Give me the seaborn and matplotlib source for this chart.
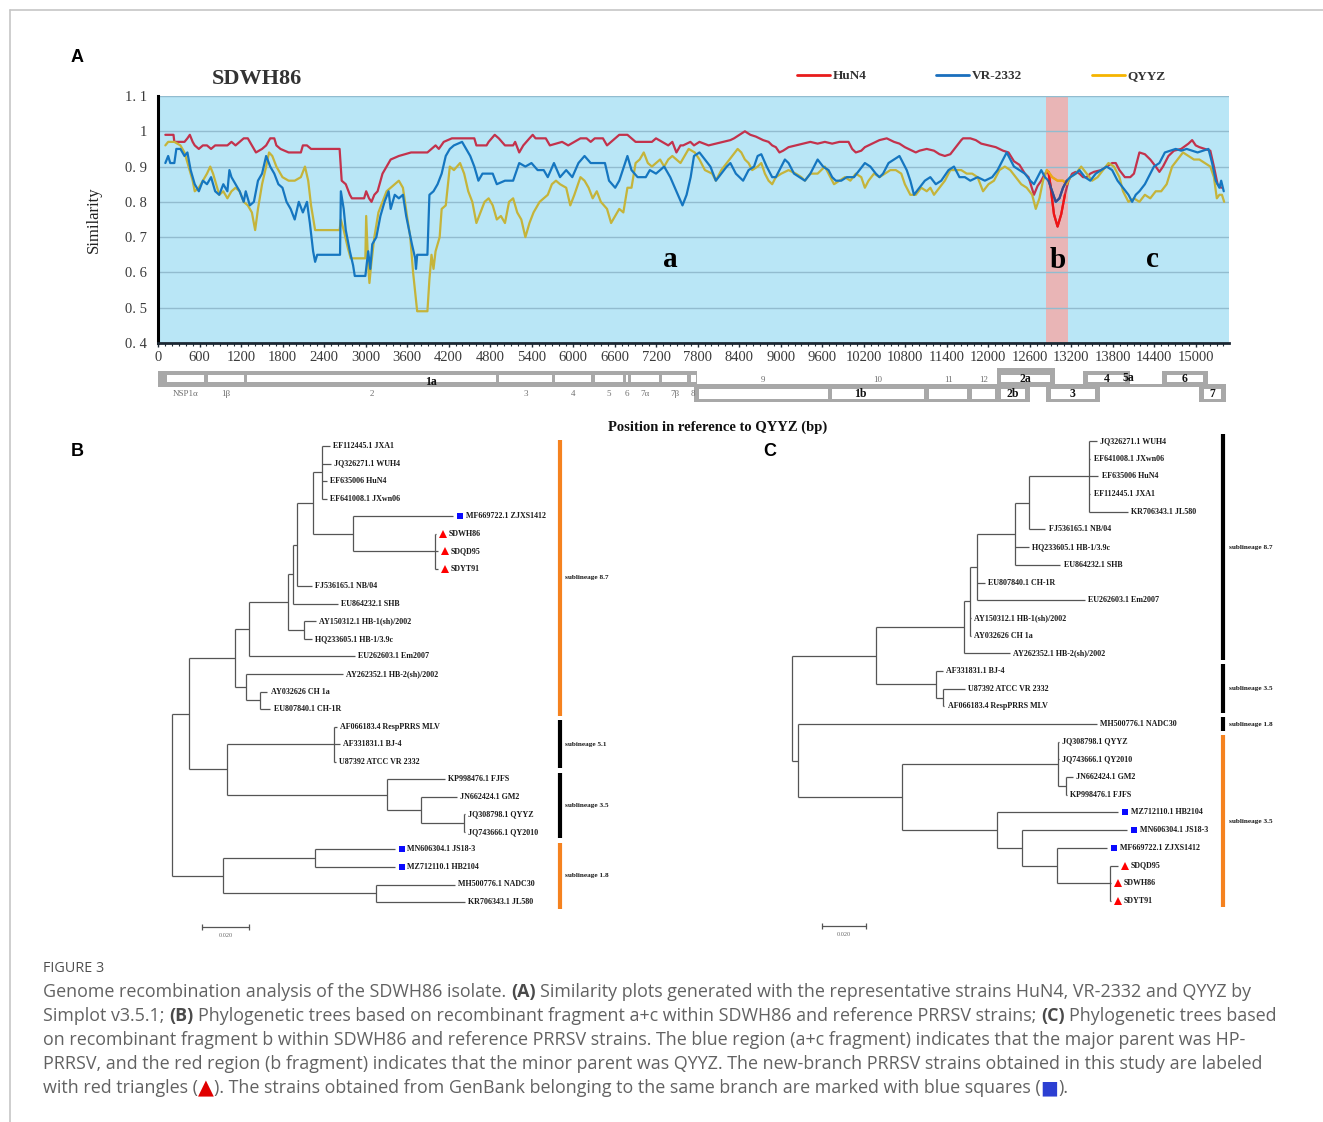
import matplotlib
matplotlib.use("Agg")
import matplotlib.pyplot as plt
from matplotlib import transforms
from matplotlib.lines import Line2D
from matplotlib.patches import Rectangle
from matplotlib.ticker import MultipleLocator
import numpy as np
import pandas as pd
import seaborn as sns

# ---------------- Panel A: similarity plot (position in bp, similarity) ----------------
hun4_pos = [106, 224, 236, 383, 425, 460, 501, 531, 590, 649, 708, 767, 826, 885, 944, 1003, 1062, 1121,
            1180, 1239, 1298, 1357, 1416, 1504, 1563, 1622, 1681, 1711, 1770, 1888, 2065, 2094, 2153, 2212,
            2625, 2655, 2714, 2773, 2802, 2979, 3009, 3050, 3086, 3127, 3174, 3245, 3304, 3363, 3481, 3658,
            3894, 3953, 4012, 4059, 4130, 4248, 4572, 4602, 4749, 4779, 4867, 4926, 5015, 5133, 5162, 5221,
            5280, 5369, 5416, 5457, 5605, 5664, 5841, 5929, 6018, 6106, 6195, 6254, 6313, 6431, 6490, 6549,
            6667, 6785, 6844, 6903, 7139, 7198, 7286, 7375, 7434, 7493, 7552, 7590, 7695, 7747, 7826, 7958,
            8063, 8168, 8273, 8326, 8404, 8483, 8562, 8641, 8746, 8825, 8877, 8930, 8982, 9035, 9114, 9219,
            9324, 9429, 9534, 9639, 9744, 9849, 9981, 10033, 10086, 10165, 10217, 10322, 10428, 10533, 10638,
            10717, 10795, 10900, 10953, 11006, 11111, 11216, 11295, 11373, 11452, 11531, 11610, 11636, 11741,
            11820, 11899, 12004, 12109, 12162, 12214, 12293, 12372, 12451, 12530, 12582, 12661, 12713, 12766,
            12819, 12871, 12897, 12950, 13002, 13055, 13108, 13160, 13213, 13265, 13318, 13370, 13423, 13475,
            13528, 13633, 13712, 13791, 13843, 13896, 13975, 14053, 14106, 14185, 14264, 14342, 14421, 14474,
            14526, 14605, 14684, 14789, 14894, 14947, 14999, 15052, 15131, 15210, 15262, 15315, 15367]
hun4_sim = [0.99, 0.99, 0.97, 0.97, 0.98, 0.99, 0.97, 0.96, 0.95, 0.96, 0.96, 0.95, 0.96, 0.96, 0.96, 0.96, 0.97, 0.96,
            0.97, 0.98, 0.98, 0.96, 0.94, 0.95, 0.96, 0.98, 0.98, 0.96, 0.95, 0.94, 0.94, 0.96, 0.96, 0.95,
            0.95, 0.86, 0.85, 0.82, 0.81, 0.81, 0.83, 0.81, 0.80, 0.82, 0.83, 0.88, 0.90, 0.92, 0.93, 0.94,
            0.94, 0.95, 0.96, 0.95, 0.97, 0.98, 0.98, 0.96, 0.96, 0.97, 0.99, 0.98, 0.96, 0.96, 0.97, 0.94,
            0.96, 0.98, 0.99, 0.98, 0.98, 0.96, 0.97, 0.96, 0.97, 0.98, 0.98, 0.97, 0.98, 0.98, 0.96, 0.97,
            0.99, 0.99, 0.98, 0.97, 0.97, 0.98, 0.97, 0.96, 0.97, 0.94, 0.96, 0.96, 0.97, 0.96, 0.97, 0.96,
            0.965, 0.97, 0.975, 0.98, 0.99, 1.00, 0.99, 0.985, 0.975, 0.97, 0.96, 0.955, 0.94, 0.945, 0.955, 0.96,
            0.965, 0.97, 0.965, 0.97, 0.965, 0.97, 0.97, 0.95, 0.94, 0.945, 0.955, 0.965, 0.975, 0.98, 0.97,
            0.965, 0.955, 0.945, 0.94, 0.945, 0.95, 0.945, 0.935, 0.93, 0.935, 0.955, 0.975, 0.98, 0.98,
            0.975, 0.965, 0.96, 0.955, 0.95, 0.945, 0.94, 0.915, 0.905, 0.88, 0.87, 0.82, 0.845, 0.86,
            0.88, 0.885, 0.85, 0.765, 0.73, 0.765, 0.82, 0.86, 0.88, 0.885, 0.88, 0.87, 0.87, 0.88,
            0.885, 0.89, 0.90, 0.91, 0.91, 0.89, 0.87, 0.87, 0.88, 0.94, 0.935, 0.92, 0.90, 0.885,
            0.90, 0.93, 0.945, 0.95, 0.965, 0.975, 0.96, 0.955, 0.95, 0.945, 0.90, 0.85, 0.84]

vr2332_pos = [106, 147, 177, 236, 265, 324, 383, 425, 472, 531, 590, 649, 708, 767, 826, 885, 944, 1003, 1032,
              1062, 1121, 1180, 1239, 1268, 1327, 1386, 1445, 1504, 1563, 1622, 1681, 1740, 1799, 1858, 1917,
              1976, 2035, 2094, 2153, 2195, 2242, 2271, 2301, 2631, 2643, 2684, 2714, 2773, 2820, 2844, 2997,
              3038, 3068, 3097, 3156, 3215, 3274, 3333, 3363, 3422, 3481, 3540, 3587, 3628, 3670, 3717, 3729,
              3746, 3894, 3923, 3982, 4041, 4100, 4159, 4218, 4277, 4395, 4454, 4513, 4572, 4631, 4690, 4749,
              4838, 4897, 5015, 5133, 5221, 5310, 5398, 5487, 5575, 5634, 5723, 5811, 5900, 5988, 6077, 6165,
              6254, 6372, 6460, 6519, 6608, 6667, 6785, 6844, 6932, 7050, 7109, 7198, 7316, 7404, 7493, 7581,
              7640, 7699, 7747, 7826, 7905, 7984, 8063, 8142, 8220, 8273, 8352, 8457, 8536, 8615, 8667, 8720,
              8798, 8877, 8930, 9009, 9061, 9114, 9193, 9271, 9350, 9429, 9534, 9613, 9692, 9744, 9797, 9876,
              9955, 10060, 10138, 10217, 10296, 10375, 10428, 10480, 10559, 10638, 10717, 10769, 10822, 10874,
              10927, 11006, 11084, 11163, 11242, 11321, 11426, 11505, 11584, 11662, 11741, 11846, 11951, 12057,
              12135, 12214, 12267, 12319, 12372, 12451, 12530, 12608, 12661, 12713, 12766, 12819, 12871, 12924,
              12976, 13029, 13081, 13134, 13186, 13265, 13318, 13397, 13475, 13554, 13633, 13712, 13791, 13869,
              13948, 14027, 14080, 14132, 14185, 14264, 14342, 14395, 14474, 14553, 14632, 14710, 14789, 14868,
              14947, 15026, 15105, 15183, 15236, 15288, 15341, 15367, 15404]
vr2332_sim = [0.91, 0.93, 0.91, 0.91, 0.95, 0.95, 0.93, 0.94, 0.89, 0.85, 0.83, 0.86, 0.85, 0.87, 0.83, 0.82, 0.85, 0.83, 0.89,
              0.87, 0.85, 0.83, 0.80, 0.83, 0.79, 0.80, 0.86, 0.88, 0.93, 0.90, 0.88, 0.85, 0.84, 0.80, 0.78,
              0.75, 0.80, 0.77, 0.80, 0.74, 0.66, 0.63, 0.65, 0.65, 0.83, 0.78, 0.72, 0.66, 0.62, 0.59, 0.59,
              0.66, 0.61, 0.68, 0.70, 0.76, 0.80, 0.83, 0.78, 0.82, 0.81, 0.82, 0.76, 0.72, 0.68, 0.64, 0.61,
              0.65, 0.65, 0.82, 0.83, 0.85, 0.88, 0.93, 0.95, 0.96, 0.97, 0.95, 0.93, 0.90, 0.86, 0.88, 0.88,
              0.88, 0.85, 0.86, 0.86, 0.91, 0.90, 0.91, 0.89, 0.89, 0.87, 0.91, 0.87, 0.89, 0.87, 0.91, 0.93,
              0.91, 0.91, 0.91, 0.86, 0.84, 0.86, 0.93, 0.89, 0.87, 0.87, 0.89, 0.88, 0.90, 0.87, 0.83, 0.79,
              0.82, 0.87, 0.93, 0.94, 0.92, 0.90, 0.86, 0.88, 0.90, 0.91, 0.88, 0.86, 0.89, 0.90, 0.93, 0.935,
              0.90, 0.87, 0.87, 0.90, 0.92, 0.91, 0.88, 0.87, 0.86, 0.88, 0.92, 0.90, 0.89, 0.87, 0.86, 0.86,
              0.87, 0.87, 0.89, 0.91, 0.90, 0.88, 0.87, 0.88, 0.91, 0.92, 0.93, 0.91, 0.89, 0.86,
              0.82, 0.84, 0.86, 0.87, 0.85, 0.86, 0.89, 0.90, 0.87, 0.87, 0.86, 0.87, 0.86, 0.87,
              0.89, 0.92, 0.94, 0.92, 0.90, 0.89, 0.88, 0.86, 0.85, 0.87, 0.89, 0.87, 0.86, 0.83,
              0.80, 0.81, 0.84, 0.86, 0.87, 0.88, 0.89, 0.87, 0.86, 0.88, 0.89, 0.90, 0.89, 0.86,
              0.84, 0.82, 0.80, 0.82, 0.83, 0.85, 0.88, 0.90, 0.91, 0.94, 0.945, 0.95, 0.945, 0.95,
              0.945, 0.94, 0.945, 0.95, 0.91, 0.86, 0.84, 0.86, 0.83]

qyyz_pos = [106, 147, 236, 324, 383, 442, 501, 531, 590, 649, 708, 755, 796, 855, 885, 944, 1003, 1062, 1121,
            1180, 1239, 1298, 1357, 1404, 1445, 1504, 1563, 1605, 1652, 1711, 1799, 1888, 1976, 2065, 2124,
            2171, 2212, 2271, 2625, 2643, 2684, 2743, 2785, 2997, 3009, 3038, 3056, 3080, 3127, 3186, 3245,
            3304, 3363, 3422, 3481, 3540, 3599, 3646, 3687, 3746, 3894, 3923, 3953, 3982, 4012, 4071, 4100,
            4159, 4218, 4277, 4366, 4425, 4484, 4543, 4602, 4661, 4720, 4779, 4838, 4897, 4956, 5015, 5074,
            5133, 5192, 5251, 5310, 5369, 5428, 5516, 5575, 5634, 5693, 5752, 5811, 5900, 5959, 6018, 6106,
            6165, 6224, 6283, 6342, 6401, 6490, 6549, 6608, 6667, 6726, 6785, 6844, 6903, 6962, 7021, 7080,
            7139, 7198, 7257, 7316, 7375, 7434, 7493, 7552, 7611, 7670, 7758, 7826, 7905, 8010, 8063, 8142,
            8220, 8299, 8378, 8431, 8483, 8536, 8588, 8667, 8720, 8772, 8825, 8877, 8930, 9009, 9114, 9219,
            9298, 9350, 9429, 9534, 9639, 9718, 9771, 9849, 9928, 10007, 10086, 10165, 10217, 10270, 10349,
            10428, 10506, 10585, 10664, 10743, 10795, 10874, 10953, 11032, 11111, 11163, 11216, 11295, 11373,
            11452, 11531, 11610, 11689, 11768, 11846, 11925, 12004, 12083, 12162, 12240, 12319, 12398, 12477,
            12556, 12635, 12687, 12740, 12792, 12845, 12871, 12924, 13002, 13081, 13134, 13186, 13265, 13344,
            13423, 13502, 13581, 13659, 13738, 13817, 13896, 13948, 14027, 14106, 14185, 14264, 14342, 14421,
            14500, 14579, 14658, 14737, 14815, 14894, 14973, 15052, 15131, 15210, 15262, 15304, 15341, 15378,
            15410]
qyyz_sim = [0.96, 0.97, 0.97, 0.96, 0.94, 0.90, 0.86, 0.83, 0.84, 0.86, 0.88, 0.90, 0.88, 0.84, 0.82, 0.83, 0.81, 0.83, 0.84,
            0.83, 0.80, 0.79, 0.77, 0.72, 0.78, 0.85, 0.90, 0.94, 0.93, 0.90, 0.87, 0.86, 0.86, 0.87, 0.90,
            0.86, 0.79, 0.72, 0.72, 0.75, 0.72, 0.67, 0.64, 0.64, 0.76, 0.62, 0.57, 0.62, 0.70, 0.77, 0.80,
            0.83, 0.84, 0.85, 0.86, 0.84, 0.76, 0.70, 0.60, 0.49, 0.49, 0.58, 0.65, 0.61, 0.66, 0.70, 0.78,
            0.79, 0.90, 0.89, 0.91, 0.88, 0.83, 0.80, 0.74, 0.77, 0.80, 0.81, 0.79, 0.75, 0.76, 0.74, 0.80,
            0.81, 0.77, 0.75, 0.70, 0.74, 0.77, 0.80, 0.81, 0.82, 0.85, 0.86, 0.85, 0.84, 0.79, 0.82, 0.87,
            0.86, 0.84, 0.81, 0.83, 0.80, 0.78, 0.74, 0.76, 0.78, 0.77, 0.84, 0.84, 0.91, 0.92, 0.94, 0.91,
            0.90, 0.91, 0.92, 0.90, 0.92, 0.93, 0.92, 0.91, 0.93, 0.95, 0.94, 0.92, 0.89, 0.88, 0.86, 0.89,
            0.91, 0.93, 0.95, 0.94, 0.92, 0.91, 0.89, 0.90, 0.91, 0.88, 0.86, 0.85, 0.87, 0.88, 0.89, 0.88,
            0.87, 0.86, 0.88, 0.88, 0.90, 0.87, 0.85, 0.86, 0.87, 0.86, 0.88, 0.87, 0.84, 0.86, 0.88,
            0.87, 0.88, 0.89, 0.89, 0.88, 0.85, 0.82, 0.82, 0.84, 0.83, 0.84, 0.82, 0.84, 0.86,
            0.89, 0.89, 0.89, 0.88, 0.88, 0.87, 0.83, 0.85, 0.86, 0.89, 0.90, 0.89, 0.87, 0.85,
            0.84, 0.82, 0.78, 0.81, 0.86, 0.89, 0.885, 0.87, 0.86, 0.86, 0.85, 0.87, 0.88, 0.90,
            0.88, 0.86, 0.87, 0.89, 0.91, 0.90, 0.87, 0.83, 0.80, 0.81, 0.80, 0.82, 0.81, 0.83,
            0.83, 0.85, 0.90, 0.92, 0.94, 0.93, 0.92, 0.92, 0.91, 0.90, 0.87, 0.81, 0.82, 0.82,
            0.80]

strain_order = ["HuN4", "VR-2332", "QYYZ"]
line_colors = {"HuN4": "#c3324c", "VR-2332": "#1576c0", "QYYZ": "#c5b43a"}
b_colors = {"HuN4": "#f01414", "VR-2332": "#3a4c8e", "QYYZ": "#f2a516"}
legend_colors = ["#e81c1c", "#1a6fbd", "#f5b400"]
b_region = (12830, 13150)
y_ticks = [0.4, 0.5, 0.6, 0.7, 0.8, 0.9, 1.0, 1.1]
y_tick_labels = ["0. 4", "0. 5", "0. 6", "0. 7", "0. 8", "0. 9", "1", "1. 1"]

# genome map (bp)
nsp_names = ["NSP1\u03b1", "1\u03b2", "2", "3", "4", "5", "6", "7\u03b1", "7\u03b2", "8", "9", "10", "11", "12"]
nsp_start = [130, 720, 1290, 4930, 5740, 6310, 6765, 6830, 7285, 7700, 7820, 9740, 11140, 11760]
nsp_end = [665, 1240, 4880, 5690, 6260, 6720, 6790, 7240, 7645, 7775, 9680, 11070, 11700, 12100]
nsp_row = [0, 0, 0, 0, 0, 0, 0, 0, 0, 0, 1, 1, 1, 1]
orf_names = ["1a", "1b", "2a", "2b", "3", "4", "6", "7"]
orf_start = [0, 7750, 12120, 12120, 12830, 13370, 14510, 15050]
orf_end = [7790, 12170, 12960, 12600, 13610, 14050, 15170, 15440]
orf_row = [0, 1, 0, 1, 1, 0, 0, 1]

# ---------------- Panels B and C: neighbour-joining trees ----------------
def clade(bl, *kids):
    return (list(kids), bl)

def leaf(name, bl):
    return (name, bl)

tree_b = clade(0,
    clade(0.0072,
        clade(0.0196,
            clade(0.0060,
                clade(0.0166,
                    clade(0.0021,
                        clade(0.0017,
                            clade(0.0068,
                                clade(0.0038, leaf("EF112445.1 JXA1", 0.0034), leaf("JQ326271.1 WUH4", 0.0038),
                                      leaf("EF635006 HuN4", 0.0021), leaf("EF641008.1 JXwn06", 0.0021)),
                                clade(0.0170, leaf("MF669722.1 ZJXS1412", 0.0426),
                                      clade(0.0349, leaf("SDWH86", 0.0004), leaf("SDQD95", 0.0013), leaf("SDYT91", 0.0013)))),
                            leaf("FJ536165.1 NB/04", 0.0064)),
                        leaf("EU864232.1 SHB", 0.0191)),
                    clade(0.0068, leaf("AY150312.1 HB-1(sh)/2002", 0.0051), leaf("HQ233605.1 HB-1/3.9c", 0.0034))),
                leaf("EU262603.1 Em2007", 0.0451)),
            clade(0.0047, leaf("AY262352.1 HB-2(sh)/2002", 0.0413),
                  clade(0.0060, leaf("AY032626 CH 1a", 0.0030), leaf("EU807840.1 CH-1R", 0.0043)))),
        clade(0.0162,
            clade(0.0455, leaf("AF066183.4 RespPRRS MLV", 0.0013), leaf("AF331831.1 BJ-4", 0.0026),
                  leaf("U87392 ATCC VR 2332", 0.0009)),
            clade(0.0681, leaf("KP998476.1 FJFS", 0.0247),
                  clade(0.0145, leaf("JN662424.1 GM2", 0.0153),
                        clade(0.0183, leaf("JQ308798.1 QYYZ", 0.0004), leaf("JQ743666.1 QY2010", 0.0004)))))),
    clade(0.0217,
        clade(0.0391, leaf("MN606304.1 JS18-3", 0.0340), leaf("MZ712110.1 HB2104", 0.0340)),
        clade(0.0651, leaf("MH500776.1 NADC30", 0.0336), leaf("KR706343.1 JL580", 0.0379))))

tree_c = clade(0,
    clade(0.0382,
        clade(0.0400,
            clade(0.0027,
                clade(0.0032,
                    clade(0.0173,
                        clade(0.0064,
                            clade(0.0273, leaf("JQ326271.1 WUH4", 0.0036), leaf("EF641008.1 JXwn06", 0.0005),
                                  leaf("EF635006 HuN4", 0.0041), leaf("EF112445.1 JXA1", 0.0005),
                                  leaf("KR706343.1 JL580", 0.0177)),
                            leaf("FJ536165.1 NB/04", 0.0073)),
                        leaf("HQ233605.1 HB-1/3.9c", 0.0064),
                        leaf("EU864232.1 SHB", 0.0205)),
                    leaf("EU807840.1 CH-1R", 0.0036),
                    leaf("EU262603.1 Em2007", 0.0491)),
                leaf("AY150312.1 HB-1(sh)/2002", 0.0005),
                leaf("AY032626 CH 1a", 0.0005)),
            leaf("AY262352.1 HB-2(sh)/2002", 0.0209)),
        clade(0.0273, leaf("AF331831.1 BJ-4", 0.0032),
              clade(0.0032, leaf("U87392 ATCC VR 2332", 0.0100), leaf("AF066183.4 RespPRRS MLV", 0.0005)))),
    clade(0.0027,
        leaf("MH500776.1 NADC30", 0.1359),
        clade(0.0473,
            clade(0.0709, leaf("JQ308798.1 QYYZ", 0.0005), leaf("JQ743666.1 QY2010", 0.0005),
                  clade(0.0036, leaf("JN662424.1 GM2", 0.0032), leaf("KP998476.1 FJFS", 0.0005))),
            clade(0.0432, leaf("MZ712110.1 HB2104", 0.0550),
                  clade(0.0114, leaf("MN606304.1 JS18-3", 0.0477),
                        clade(0.0159, leaf("MF669722.1 ZJXS1412", 0.0227),
                              clade(0.0241, leaf("SDQD95", 0.0036), leaf("SDWH86", 0.0005), leaf("SDYT91", 0.0005))))))))

new_strains = ["SDWH86", "SDQD95", "SDYT91"]
same_branch = ["MF669722.1 ZJXS1412", "MN606304.1 JS18-3", "MZ712110.1 HB2104"]

clade_b_names = ["sublineage 8.7", "subineage 5.1", "sublineage 3.5", "sublineage 1.8"]
clade_b_first = [0, 16, 19, 23]
clade_b_last = [15, 18, 22, 26]
clade_b_colors = ["#f5821f", "black", "black", "#f5821f"]
clade_c_names = ["sublineage 8.7", "sublineage 3.5", "sublineage 1.8", "sublineage 3.5"]
clade_c_first = [0, 13, 16, 17]
clade_c_last = [12, 15, 16, 26]
clade_c_colors = ["black", "black", "black", "#f5821f"]

caption_lines = [
    [("Genome recombination analysis of the SDWH86 isolate. ", "n"), ("(A)", "b"),
     (" Similarity plots generated with the representative strains HuN4, VR-2332 and QYYZ by", "n")],
    [("Simplot v3.5.1; ", "n"), ("(B)", "b"),
     (" Phylogenetic trees based on recombinant fragment a+c within SDWH86 and reference PRRSV strains; ", "n"),
     ("(C)", "b"), (" Phylogenetic trees based", "n")],
    [("on recombinant fragment b within SDWH86 and reference PRRSV strains. The blue region (a+c fragment) "
      "indicates that the major parent was HP-", "n")],
    [("PRRSV, and the red region (b fragment) indicates that the minor parent was QYYZ. The new-branch PRRSV "
      "strains obtained in this study are labeled", "n")],
    [("with red triangles (", "n"), ("\u25b2", "tri"),
     ("). The strains obtained from GenBank belonging to the same branch are marked with blue squares (", "n"),
     ("\u25a0", "sq"), (").", "n")],
]

# ---------------- figure ----------------
sns.set_theme(style="white")
serif = ["Liberation Serif", "DejaVu Serif"]
plt.rcParams["font.family"] = serif

W, H = 1323, 1122
fig = plt.figure(figsize=(W / 100, H / 100), dpi=100)


def px_axes(x0, y0, x1, y1):
    return fig.add_axes([x0 / W, 1 - y1 / H, (x1 - x0) / W, (y1 - y0) / H])


# --- panel A ---
ax = px_axes(158, 96, 1229, 343)
ax.set_facecolor("#b9e6f6")
ax.axvspan(*b_region, color="#e9b5b6", lw=0, zorder=0.3)

sim_df = pd.concat([
    pd.DataFrame({"pos": hun4_pos, "sim": hun4_sim, "strain": "HuN4"}),
    pd.DataFrame({"pos": vr2332_pos, "sim": vr2332_sim, "strain": "VR-2332"}),
    pd.DataFrame({"pos": qyyz_pos, "sim": qyyz_sim, "strain": "QYYZ"}),
], ignore_index=True)
draw_order = ["HuN4", "QYYZ", "VR-2332"]
sns.lineplot(data=sim_df, x="pos", y="sim", hue="strain", hue_order=draw_order, palette=line_colors,
             estimator=None, sort=False, linewidth=1.6, legend=False, ax=ax)
b_df = sim_df[(sim_df["pos"] >= b_region[0]) & (sim_df["pos"] <= b_region[1])]
sns.lineplot(data=b_df, x="pos", y="sim", hue="strain", hue_order=draw_order, palette=b_colors,
             estimator=None, sort=False, linewidth=1.6, legend=False, ax=ax)

ax.set_xlim(0, 15480)
ax.set_ylim(0.4, 1.1)
ax.set_xticks(np.arange(0, 15001, 600))
ax.xaxis.set_minor_locator(MultipleLocator(100))
ax.set_yticks(y_ticks, y_tick_labels)
ax.grid(axis="y", color="#92bccf", lw=1.0)
ax.grid(axis="x", visible=False)
ax.set_axisbelow(True)
for s in ["top", "right"]:
    ax.spines[s].set_visible(False)
ax.spines["left"].set_color("black")
ax.spines["left"].set_linewidth(2.2)
ax.spines["bottom"].set_color("#1c2833")
ax.spines["bottom"].set_linewidth(2.0)
ax.tick_params(axis="x", which="major", direction="out", length=3, width=1, color="#1c2833",
               labelsize=10.5, labelcolor="#3a3a3a", pad=3, bottom=True)
ax.tick_params(axis="x", which="minor", direction="out", length=2, width=0.8, color="#1c2833", bottom=True)
ax.tick_params(axis="y", length=0, pad=8, labelsize=10.5, labelcolor="#3a3a3a")
ax.set_xlabel("")
ax.set_ylabel("Similarity", fontsize=12, color="#222222")
ax.yaxis.set_label_coords(-0.052, 0.5)

for letter, xpos, ypos in [("a", 7400, 0.637), ("b", 13000, 0.633), ("c", 14370, 0.637)]:
    ax.text(xpos, ypos, letter, fontsize=21, fontweight="bold", ha="center", va="center", color="black")

fig.text(212 / W, 1 - 79 / H, "SDWH86", fontsize=16, fontweight="bold", color="#333333",
         ha="left", va="center")
handles = [Line2D([], [], color=c, lw=2) for c in legend_colors]
fig.legend(handles, strain_order, loc="center left", bbox_to_anchor=(797 / W, 1 - 76 / H), ncol=3,
           frameon=False, handlelength=2.5, handletextpad=0.2, columnspacing=5.3, borderpad=0,
           borderaxespad=0, prop={"weight": "bold", "size": 9.5, "family": serif}, labelcolor="#333333")

# --- genome map ---
axm = px_axes(158, 362, 1229, 410)
axm.set_xlim(ax.get_xlim())
axm.set_ylim(410, 362)
axm.axis("off")
gray = "#a8a8a8"
frame_y = {0: (371, 385), 1: (385, 402)}
white_y = {0: (374.5, 381.5), 1: (388.5, 398.5)}
axm.add_patch(Rectangle((0, 383.5), 15440, 3.5, color=gray, lw=0))
for name, s, e, r in zip(orf_names, orf_start, orf_end, orf_row):
    top, bot = frame_y[r]
    if name == "2a":
        top -= 3
    axm.add_patch(Rectangle((s, top), e - s, bot - top, color=gray, lw=0))
    if name in ("1a", "1b"):
        continue
    wt, wb = white_y[r]
    axm.add_patch(Rectangle((s + 70, wt), e - s - 140, wb - wt, color="white", lw=0))
    axm.text((s + e) / 2, (wt + wb) / 2 + 0.5, name, fontsize=8.5, fontweight="bold", ha="center",
             va="center", color="#111111")
axm.text(14020, 378, "5a", fontsize=8.5, fontweight="bold", ha="center", va="center", color="#111111")
for name, s, e, r in zip(nsp_names, nsp_start, nsp_end, nsp_row):
    wt, wb = white_y[r]
    axm.add_patch(Rectangle((s, wt), e - s, wb - wt, color="white", lw=0))
    ly = 394.5 if r == 0 else 380
    axm.text((s + e) / 2, ly, name, fontsize=6.5, ha="center", va="center", color="#707070")
axm.text(3950, 382, "1a", fontsize=8.5, fontweight="bold", ha="center", va="center", color="#111111")
axm.text(10150, 394, "1b", fontsize=8.5, fontweight="bold", ha="center", va="center", color="#111111")

fig.text(718 / W, 1 - 427 / H, "Position in reference to QYYZ (bp)", fontsize=10.5, fontweight="bold",
         ha="center", va="center", color="#111111")


# --- trees ---
def draw_tree(axt, tree, names, firsts, lasts, colors, bar_x):
    tips, segs = [], []

    def walk(node, x0):
        content, bl = node
        x = x0 + bl
        if isinstance(content, str):
            y = len(tips)
            tips.append((content, x, y))
        else:
            ys = [walk(child, x) for child in content]
            y = (ys[0] + ys[-1]) / 2
            segs.append(([x, x], [ys[0], ys[-1]]))
        segs.append(([x0, x], [y, y]))
        return y

    walk(tree, 0.0)
    for xs, ys in segs:
        axt.plot(xs, ys, color="#555555", lw=0.9, solid_capstyle="butt")
    mark_tr = transforms.offset_copy(axt.transData, fig=fig, x=5.0, y=0, units="points")
    for name, x, y in tips:
        off = 2.4
        if name in new_strains:
            axt.plot(x, y, marker="^", color="#ff0000", ms=6.2, mew=0, transform=mark_tr)
            off = 9
        elif name in same_branch:
            axt.plot(x, y, marker="s", color="#0a0aff", ms=5, mew=0, transform=mark_tr)
            off = 9
        axt.annotate(name, (x, y), xytext=(off, 0), textcoords="offset points", va="center", ha="left",
                     fontsize=5.8, fontweight="bold", color="#1a1a1a")
    bar_tr = transforms.blended_transform_factory(axt.transAxes, axt.transData)
    for label, i0, i1, c in zip(names, firsts, lasts, colors):
        axt.plot([bar_x, bar_x], [i0 - 0.37, i1 + 0.37], color=c, lw=3, solid_capstyle="butt",
                 transform=bar_tr)
        axt.annotate(label, (bar_x, (i0 + i1) / 2), xycoords=bar_tr, xytext=(4, 0),
                     textcoords="offset points", va="center", ha="left", fontsize=5.2, fontweight="bold",
                     color="#1a1a1a")
    axt.axis("off")


def scale_bar(axt, x0, yi):
    axt.plot([x0, x0 + 0.02], [yi, yi], color="#555555", lw=0.9, marker="|", ms=4, mew=0.9)
    axt.text(x0 + 0.01, yi + 0.5, "0.020", fontsize=4.5, color="#666666", ha="center", va="center")


# tree B: 2350 px per distance unit, 17.54 px per tip
axb = px_axes(160, 436, 640, 946)
draw_tree(axb, tree_b, clade_b_names, clade_b_first, clade_b_last, clade_b_colors, 0.833)
scale_bar(axb, 30 / 2350, 27.42)
axb.set_xlim(-12 / 2350, 468 / 2350)
axb.set_ylim(500 / 17.54, -10 / 17.54)

# tree C: 2200 px per distance unit, 17.69 px per tip
axc = px_axes(780, 430, 1290, 946)
draw_tree(axc, tree_c, clade_c_names, clade_c_first, clade_c_last, clade_c_colors, 0.8686)
scale_bar(axc, 30 / 2200, 27.42)
axc.set_xlim(-12 / 2200, 498 / 2200)
axc.set_ylim(505 / 17.69, -11 / 17.69)

# --- panel letters ---
for letter, px, py in [("A", 77, 58), ("B", 77, 452), ("C", 770, 452)]:
    fig.text(px / W, 1 - py / H, letter, fontsize=13, fontweight="bold", family="Liberation Sans",
             ha="center", va="center", color="black")

# --- caption ---
renderer = fig.canvas.get_renderer()
cap_font = ["Open Sans", "DejaVu Sans"]
cap_color = "#626262"


def text_width(s, size, weight="normal", family=cap_font):
    t = fig.text(0, 0, s, fontsize=size, fontweight=weight, family=family)
    w = t.get_window_extent(renderer).width
    t.remove()
    return w


full1 = "".join(p[0] for p in caption_lines[0])
cap_size = 11.5 * 1213 / text_width(full1, 11.5)
space_w = text_width("a a", cap_size) - text_width("aa", cap_size)

fig.text(43 / W, 1 - 968 / H, "FIGURE 3", fontsize=cap_size * 0.8, family=cap_font, color="#505050",
         ha="left", va="center")
for k, pieces in enumerate(caption_lines):
    y = 1 - (992 + 24 * k) / H
    x = 43
    for s, style in pieces:
        lead = len(s) - len(s.lstrip(" "))
        trail = len(s) - len(s.rstrip(" "))
        x += lead * space_w
        core = s.strip(" ")
        if style == "tri":
            t = fig.text(x / W, y, core, fontsize=cap_size * 1.15, family="DejaVu Sans", color="#e00000",
                         ha="left", va="center")
        elif style == "sq":
            t = fig.text(x / W, y, core, fontsize=cap_size * 1.05, family="DejaVu Sans", color="#2c3fd2",
                         ha="left", va="center")
        else:
            t = fig.text(x / W, y, core, fontsize=cap_size, family=cap_font,
                         fontweight="bold" if style == "b" else "normal",
                         color="#4a4a4a" if style == "b" else cap_color, ha="left", va="center")
        x += t.get_window_extent(renderer).width + trail * space_w

# --- page border ---
fig.add_artist(Line2D([10 / W, 1], [1 - 10 / H, 1 - 10 / H], color="#c6c6c6", lw=1.2))
fig.add_artist(Line2D([10 / W, 10 / W], [0, 1 - 10 / H], color="#c6c6c6", lw=1.2))

fig.savefig("out.png", dpi=100)
